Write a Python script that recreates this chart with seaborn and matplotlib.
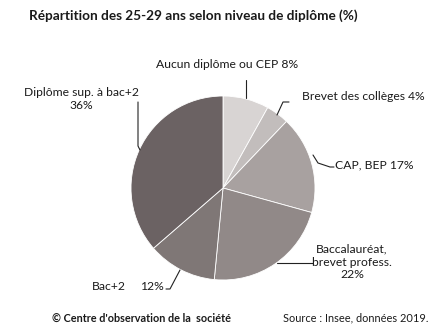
import matplotlib
matplotlib.use("Agg")
import matplotlib.pyplot as plt
from matplotlib.lines import Line2D
import seaborn as sns

sns.set_theme(style="white")
plt.rcParams["font.family"] = ["Lato", "DejaVu Sans"]

categories = ["Aucun diplôme ou CEP", "Brevet des collèges", "CAP, BEP",
              "Baccalauréat, brevet profess.", "Bac+2", "Diplôme sup. à bac+2"]
values = [8, 4, 17, 22, 12, 36]
colors = ["#d8d4d3", "#c2bdbc", "#a8a1a0", "#918988", "#7f7776", "#6b6263"]

W, H = 441, 331
fig = plt.figure(figsize=(W / 100, H / 100), dpi=100)
fig.patch.set_facecolor("white")

# pie centred at (223, 188) px, radius 92 px
cx, cy, r = 223, 188, 92
ax = fig.add_axes([(cx - r) / W, (H - cy - r) / H, 2 * r / W, 2 * r / H])
ax.pie(values, colors=colors, startangle=90, counterclock=False,
       wedgeprops=dict(edgecolor="white", linewidth=0.6), radius=1)
ax.set_xlim(-1, 1)
ax.set_ylim(-1, 1)
ax.set_aspect("equal")
ax.axis("off")


def px(x, y):
    return x / W, 1 - y / H


def label(x, y, s, ha="left", weight="normal", size=8.7):
    fx, fy = px(x, y)
    fig.text(fx, fy, s, ha=ha, va="center", fontsize=size, weight=weight,
             color="#1a1a1a", linespacing=1.2)


def leader(points):
    xs = [p[0] / W for p in points]
    ys = [1 - p[1] / H for p in points]
    fig.add_artist(Line2D(xs, ys, color="#222222", linewidth=0.8,
                          transform=fig.transFigure))


label(29, 16, "Répartition des 25-29 ans selon niveau de diplôme (%)",
      weight="bold", size=9.8)

label(227, 64, f"{categories[0]} {values[0]}%", ha="center")
leader([(246, 80), (246, 98)])

label(302, 96, f"{categories[1]} {values[1]}%")
leader([(289, 102), (283, 102), (277, 115)])

label(335, 165, f"{categories[2]} {values[2]}%")
leader([(313, 155), (318, 163), (330, 167), (334, 167)])

label(352, 262, f"Baccalauréat,\nbrevet profess.\n{values[3]}%", ha="center")
leader([(277, 263), (313, 263)])

label(92, 286, categories[4])
label(140, 286, f"{values[4]}%")
leader([(166, 289), (170, 289), (180, 270)])

label(81, 99, f"{categories[5]}\n{values[5]}%", ha="center")
leader([(138, 102), (138, 146), (140, 150)])

label(52, 318, "© Centre d'observation de la  société", weight="bold", size=7.8)
label(283, 318, "Source : Insee, données 2019.", size=7.9)

fig.savefig("out.png", dpi=100, facecolor="white")
